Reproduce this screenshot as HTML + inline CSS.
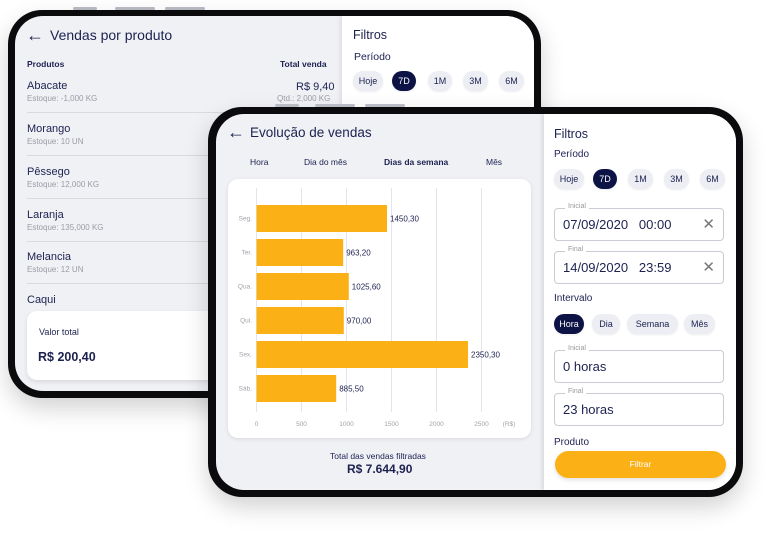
<!DOCTYPE html>
<html><head><meta charset="utf-8"><style>
*{box-sizing:border-box;margin:0;padding:0}
body{width:768px;height:534px;background:#fff;position:relative;overflow:hidden;font-family:"Liberation Sans",sans-serif;color:#1c2150}
.abs{position:absolute}
.frame{position:absolute;background:#0b0b0d;border-radius:34px;box-shadow:0 10px 24px rgba(0,0,0,.18)}
.screen{position:absolute;overflow:hidden;border-radius:28px;background:#f0f1f5}
.btn{position:absolute;background:#b9bcc4;height:3px;border-radius:2px}
.t{position:absolute;white-space:nowrap}
.chip{position:absolute;height:20px;border-radius:10px;background:#eceef3;font-size:9px;line-height:20px;text-align:center;color:#1c2150;box-shadow:0 1px 2px rgba(0,0,0,.08)}
.chip.on{background:#0d1445;color:#fff}
.inp{position:absolute;border:1px solid #c9ccd3;border-radius:4px;background:#fff}
.inp .lb{position:absolute;left:10px;top:-6px;font-size:7px;color:#999;background:#fff;padding:0 3px}
.inp .v{position:absolute;left:8px;top:8px;font-size:13px;color:#1c2150}
.inp .x{position:absolute;right:8px;top:6px;font-size:15px;color:#777}
.row-n{font-size:11px}
.row-s{font-size:8px;color:#9a9ca5}
.div{position:absolute;height:1px;background:#d8dae0}
</style></head><body>

<!-- back tablet -->
<div class="btn" style="left:73px;top:7px;width:24px"></div>
<div class="btn" style="left:115px;top:7px;width:40px"></div>
<div class="btn" style="left:165px;top:7px;width:40px"></div>
<div class="frame" style="left:8px;top:10px;width:533px;height:388px"></div>
<div class="screen" style="left:15px;top:16px;width:519px;height:375px">
  <div class="abs" style="left:327px;top:0;width:192px;height:375px;background:#fff;box-shadow:-2px 0 4px rgba(0,0,0,.08)"></div>
</div>
<div class="t" style="left:26px;top:25px;font-size:18px">←</div>
<div class="t" style="left:50px;top:27px;font-size:14px">Vendas por produto</div>
<div class="t" style="left:27px;top:59px;font-size:8.5px;font-weight:bold">Produtos</div>
<div class="t" style="left:280px;top:59px;font-size:8.5px;font-weight:bold">Total venda</div>
<div class="t row-n" style="left:27px;top:80px">Abacate</div>
<div class="t row-s" style="left:27px;top:94px">Estoque: -1,000 KG</div>
<div class="t row-n" style="left:296px;top:81px">R$ 9,40</div>
<div class="t row-s" style="left:277px;top:94px">Qtd.: 2,000 KG</div>
<div class="div" style="left:27px;top:112px;width:315px"></div>
<div class="t row-n" style="left:27px;top:123px">Morango</div>
<div class="t row-s" style="left:27px;top:137px">Estoque: 10 UN</div>
<div class="div" style="left:27px;top:155px;width:315px"></div>
<div class="t row-n" style="left:27px;top:166px">Pêssego</div>
<div class="t row-s" style="left:27px;top:180px">Estoque: 12,000 KG</div>
<div class="div" style="left:27px;top:198px;width:315px"></div>
<div class="t row-n" style="left:27px;top:209px">Laranja</div>
<div class="t row-s" style="left:27px;top:223px">Estoque: 135,000 KG</div>
<div class="div" style="left:27px;top:241px;width:315px"></div>
<div class="t row-n" style="left:27px;top:251px">Melancia</div>
<div class="t row-s" style="left:27px;top:265px">Estoque: 12 UN</div>
<div class="div" style="left:27px;top:283px;width:315px"></div>
<div class="t row-n" style="left:27px;top:294px">Caqui</div>
<div class="abs" style="left:27px;top:311px;width:200px;height:69px;background:#fff;border-radius:10px;box-shadow:0 2px 5px rgba(0,0,0,.1)">
  <div class="t" style="left:12px;top:16px;font-size:9px">Valor total</div>
  <div class="t" style="left:11px;top:39px;font-size:12.5px;font-weight:bold">R$ 200,40</div>
</div>
<div class="t" style="left:353px;top:28px;font-size:12.5px">Filtros</div>
<div class="t" style="left:354px;top:51px;font-size:10.5px">Período</div>
<div class="chip" style="left:353px;top:71px;width:30px">Hoje</div>
<div class="chip on" style="left:392px;top:71px;width:24px">7D</div>
<div class="chip" style="left:428px;top:71px;width:24px">1M</div>
<div class="chip" style="left:463px;top:71px;width:25px">3M</div>
<div class="chip" style="left:499px;top:71px;width:25px">6M</div>

<!-- front tablet -->
<div class="btn" style="left:275px;top:104px;width:24px;z-index:1"></div>
<div class="btn" style="left:315px;top:104px;width:40px;z-index:1"></div>
<div class="btn" style="left:365px;top:104px;width:40px;z-index:1"></div>
<div class="frame" style="left:208px;top:107px;width:535px;height:390px"></div>
<div class="screen" style="left:216px;top:114px;width:520px;height:376px">
  <div class="abs" style="left:328px;top:0;width:192px;height:376px;background:#fff;box-shadow:-2px 0 4px rgba(0,0,0,.1)"></div>
</div>
<div class="t" style="left:227px;top:122px;font-size:18px">←</div>
<div class="t" style="left:250px;top:125px;font-size:13.5px">Evolução de vendas</div>
<div class="t" style="left:250px;top:157px;font-size:8.5px">Hora</div>
<div class="t" style="left:304px;top:157px;font-size:8.5px">Dia do mês</div>
<div class="t" style="left:384px;top:157px;font-size:8.5px;font-weight:bold">Dias da semana</div>
<div class="t" style="left:486px;top:157px;font-size:8.5px">Mês</div>

<div class="abs" style="left:228px;top:179px;width:303px;height:259px;background:#fff;border-radius:10px;box-shadow:0 1px 4px rgba(0,0,0,.1)"></div>
<svg class="abs" style="left:0;top:0" width="768" height="534" id="chart"></svg>

<div class="t" style="left:330px;top:451px;font-size:8.5px">Total das vendas filtradas</div>
<div class="t" style="left:347px;top:462px;font-size:12px;font-weight:bold">R$ 7.644,90</div>

<div class="t" style="left:554px;top:127px;font-size:12.5px">Filtros</div>
<div class="t" style="left:554px;top:149px;font-size:10px">Período</div>
<div class="chip" style="left:554px;top:169px;width:30px">Hoje</div>
<div class="chip on" style="left:593px;top:169px;width:24px">7D</div>
<div class="chip" style="left:628px;top:169px;width:25px">1M</div>
<div class="chip" style="left:664px;top:169px;width:25px">3M</div>
<div class="chip" style="left:700px;top:169px;width:25px">6M</div>
<div class="inp" style="left:554px;top:208px;width:170px;height:33px"><span class="lb">Inicial</span><span class="v">07/09/2020&nbsp;&nbsp;&nbsp;00:00</span><span class="x">✕</span></div>
<div class="inp" style="left:554px;top:251px;width:170px;height:33px"><span class="lb">Final</span><span class="v">14/09/2020&nbsp;&nbsp;&nbsp;23:59</span><span class="x">✕</span></div>
<div class="t" style="left:554px;top:293px;font-size:10px">Intervalo</div>
<div class="chip on" style="left:554px;top:314px;width:30px">Hora</div>
<div class="chip" style="left:592px;top:314px;width:28px">Dia</div>
<div class="chip" style="left:627px;top:314px;width:51px">Semana</div>
<div class="chip" style="left:684px;top:314px;width:31px">Mês</div>
<div class="inp" style="left:554px;top:350px;width:170px;height:33px"><span class="lb">Inicial</span><span class="v">0 horas</span></div>
<div class="inp" style="left:554px;top:393px;width:170px;height:33px"><span class="lb">Final</span><span class="v">23 horas</span></div>
<div class="t" style="left:554px;top:437px;font-size:10px">Produto</div>
<div class="abs" style="left:555px;top:451px;width:171px;height:27px;border-radius:14px;background:#fbb116;color:#fff;font-size:8.5px;text-align:center;line-height:27px;box-shadow:0 2px 4px rgba(0,0,0,.12)">Filtrar</div>

<script>
const categories=["Seg.","Ter.","Qua.","Qui.","Sex.","Sáb."];
const values=[1450.30,963.20,1025.60,970.00,2350.30,885.50];
const valueLabels=["1450,30","963,20","1025,60","970,00","2350,30","885,50"];
const ticks=[0,500,1000,1500,2000,2500];
const NS="http://www.w3.org/2000/svg";
const svg=document.getElementById('chart');
const x0=256.5,pxPer=0.09,yTop=205,step=34,bh=27;
const xs=v=>x0+v*pxPer;
const yb=i=>yTop+i*step;
function mk(t,a){const e=document.createElementNS(NS,t);for(const k in a)e.setAttribute(k,a[k]);svg.appendChild(e);return e;}
ticks.forEach(t=>{
  const l=mk('line',{x1:xs(t),x2:xs(t),y1:188,y2:412,stroke:'#e4e5ea','stroke-width':1});
  
  
  const tx=mk('text',{x:xs(t),y:426,'font-size':6.5,fill:'#a0a2aa','text-anchor':'middle','font-family':'Liberation Sans, sans-serif'});
  tx.textContent=t;
  
  
});
const u=mk('text',{x:509,y:426,'font-size':6.5,fill:'#a0a2aa','text-anchor':'middle','font-family':'Liberation Sans, sans-serif'});
u.textContent='(R$)';


categories.forEach((c,i)=>{
  const r=mk('rect',{x:x0,y:yb(i),width:xs(values[i])-x0,height:bh,fill:'#fbb116'});
  
  
  const cl=mk('text',{x:252,y:yb(i)+bh/2+2,'font-size':6.5,fill:'#a0a2aa','text-anchor':'end','font-family':'Liberation Sans, sans-serif'});
  cl.textContent=c;
  
  
  const vl=mk('text',{x:xs(values[i])+3,y:yb(i)+bh/2+3,'font-size':8,fill:'#1c2150','font-family':'Liberation Sans, sans-serif'});
  vl.textContent=valueLabels[i];
  
  
});
</script>
</body></html>
